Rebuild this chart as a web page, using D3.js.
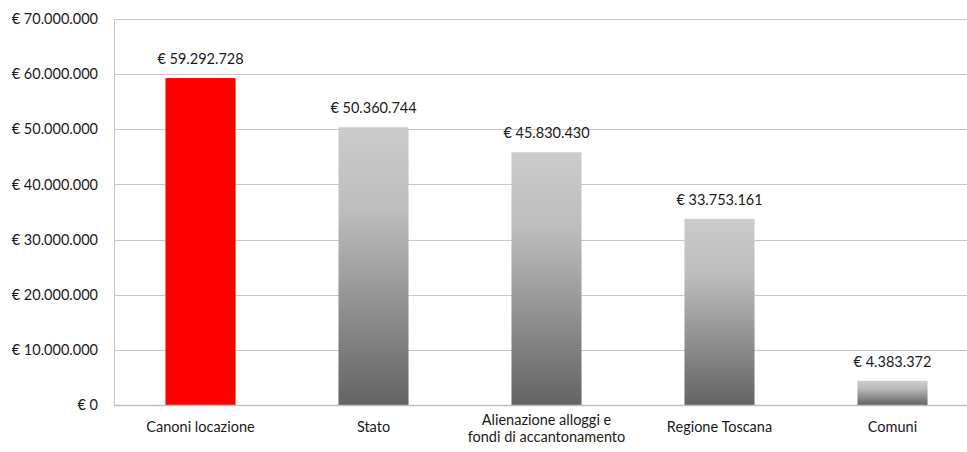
<!DOCTYPE html>
<html>
<head>
<meta charset="utf-8">
<script src="https://cdn.jsdelivr.net/npm/d3@7"></script>
<style>
  html, body { margin: 0; padding: 0; background: #ffffff; }
  svg { display: block; }
  text { font-family: Lato, "Open Sans", sans-serif; fill: #1a1a1a; }
</style>
</head>
<body>
<svg id="chart" width="967" height="452"></svg>
<script>
// Entrate per fonte di finanziamento (euro)
const categories = [
  ["Canoni locazione"],
  ["Stato"],
  ["Alienazione alloggi e", "fondi di accantonamento"],
  ["Regione Toscana"],
  ["Comuni"]
];
const values = [59292728, 50360744, 45830430, 33753161, 4383372];
const highlighted = [true, false, false, false, false];
const yTicks = [0, 10000000, 20000000, 30000000, 40000000, 50000000, 60000000, 70000000];

const W = 967, H = 452;
const margin = { top: 19, right: -12, bottom: 47, left: 114 };
const fontSize = "14.5px";

const svg = d3.select("#chart");

// Italian-style number formatting: dots as thousands separators
const it = d3.formatLocale({ decimal: ",", thousands: ".", grouping: [3], currency: ["€ ", ""] });
const fmt = v => "€ " + it.format(",.0f")(v);

const x = d3.scaleBand()
  .domain(d3.range(categories.length))
  .range([margin.left, W - margin.right])
  .paddingInner(0.595)
  .paddingOuter(0.2975);

const y = d3.scaleLinear()
  .domain([0, 70000000])
  .range([H - margin.bottom, margin.top]);

// Grey gradient fill for the standard bars
const defs = svg.append("defs");
const grad = defs.append("linearGradient")
  .attr("id", "barGrey")
  .attr("x1", 0).attr("y1", 0).attr("x2", 0).attr("y2", 1);
grad.append("stop").attr("offset", "0%").attr("stop-color", "#cbcbcb");
grad.append("stop").attr("offset", "30%").attr("stop-color", "#bdbdbd");
grad.append("stop").attr("offset", "100%").attr("stop-color", "#636363");

// Horizontal gridlines
svg.append("g")
  .selectAll("line")
  .data(yTicks)
  .join("line")
  .attr("x1", margin.left)
  .attr("x2", W - margin.right)
  .attr("y1", d => Math.round(y(d)) + 0.5)
  .attr("y2", d => Math.round(y(d)) + 0.5)
  .attr("stroke", "#c6c6c6")
  .attr("stroke-width", 1);

// Left border of the plot area
svg.append("line")
  .attr("x1", margin.left + 0.5).attr("x2", margin.left + 0.5)
  .attr("y1", Math.round(y(70000000)) + 0.5)
  .attr("y2", Math.round(y(0)) + 0.5)
  .attr("stroke", "#c6c6c6");

// Y axis labels
const yAxis = d3.axisLeft(y)
  .tickValues(yTicks)
  .tickSize(0)
  .tickPadding(16)
  .tickFormat(fmt);
const gy = svg.append("g")
  .attr("transform", `translate(${margin.left},0)`)
  .call(yAxis);
gy.select(".domain").remove();
gy.selectAll("text")
  .style("font-family", "Lato, 'Open Sans', sans-serif")
  .style("font-size", fontSize)
  .attr("fill", "#1a1a1a");

// Bars
svg.append("g")
  .selectAll("rect")
  .data(values)
  .join("rect")
  .attr("x", (d, i) => x(i))
  .attr("width", x.bandwidth())
  .attr("y", d => y(d))
  .attr("height", d => y(0) - y(d))
  .attr("fill", (d, i) => highlighted[i] ? "#ff0000" : "url(#barGrey)");

// Bottom axis line drawn over the bar bases
svg.append("line")
  .attr("x1", margin.left).attr("x2", W - margin.right)
  .attr("y1", Math.round(y(0)) + 0.5).attr("y2", Math.round(y(0)) + 0.5)
  .attr("stroke", "#bfbfbf")
  .attr("stroke-width", 1.5);

// Value labels above bars
svg.append("g")
  .selectAll("text")
  .data(values)
  .join("text")
  .attr("x", (d, i) => x(i) + x.bandwidth() / 2)
  .attr("y", d => y(d) - 14)
  .attr("text-anchor", "middle")
  .style("font-size", fontSize)
  .text(d => fmt(d));

// Category labels (one text per line so wrapped labels stay separate)
const labelLines = [];
categories.forEach((lines, i) => {
  const top = lines.length > 1 ? 425 : 432;
  lines.forEach((line, j) => labelLines.push({ i, text: line, y: top + j * 17 }));
});
svg.append("g")
  .selectAll("text")
  .data(labelLines)
  .join("text")
  .attr("x", d => x(d.i) + x.bandwidth() / 2)
  .attr("y", d => d.y)
  .attr("text-anchor", "middle")
  .style("font-size", fontSize)
  .text(d => d.text);
</script>
</body>
</html>
